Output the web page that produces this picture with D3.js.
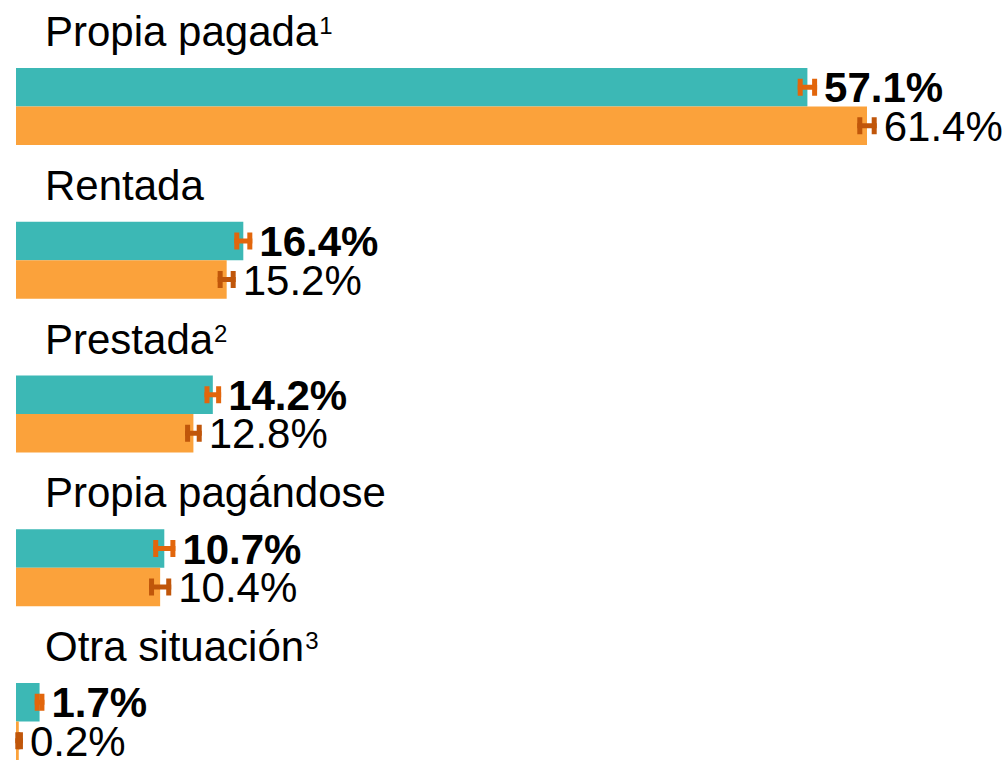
<!DOCTYPE html>
<html>
<head>
<meta charset="utf-8">
<script src="https://cdn.jsdelivr.net/npm/d3@7"></script>
<style>
  body { margin: 0; background: #fff; }
  svg { display: block; font-family: "Liberation Sans", Arial, sans-serif; }
</style>
</head>
<body>
<div id="chart"></div>
<script>
// categories + superscript footnote marks
var categories = ["Propia pagada", "Rentada", "Prestada", "Propia pagándose", "Otra situación"];
var footnotes  = ["1", "", "2", "", "3"];

// first series (teal, bold label) and second series (orange)
var valuesA = [57.1, 16.4, 14.2, 10.7, 1.7];
var lowA    = [56.4, 15.75, 13.6, 9.9, 1.35];
var highA   = [57.8, 17.05, 14.8, 11.5, 2.05];

var valuesB = [61.4, 15.2, 12.8, 10.4, 0.2];
var lowB    = [60.7, 14.55, 12.2, 9.6, -0.05];
var highB   = [62.1, 15.85, 13.4, 11.2, 0.5];

var W = 1007, H = 760;

var svg = d3.select("#chart").append("svg")
	.attr("width", W).attr("height", H);

var x = d3.scaleLinear().domain([0, 61.4]).range([16, 867]);

var y = d3.scaleBand().domain(categories).range([68, 68 + 5 * 153.75]).padding(0);

var inner = d3.scaleBand().domain(["A", "B"]).range([0, 77]);

var series = [
	{ key: "A", vals: valuesA, lo: lowA, hi: highA, fill: "#3cb8b5", err: "#e2660c", weight: "bold" },
	{ key: "B", vals: valuesB, lo: lowB, hi: highB, fill: "#fba23b", err: "#c0560a", weight: "normal" }
];

// category labels
var cat = svg.selectAll("text.cat").data(categories).enter()
	.append("text")
	.attr("class", "cat")
	.attr("x", 45)
	.attr("y", function(d) { return y(d) - 22; })
	.attr("font-size", 42)
	.attr("fill", "#000");

cat.append("tspan").text(function(d) { return d; });
cat.append("tspan")
	.attr("font-size", 24)
	.attr("dx", 1)
	.attr("dy", -12)
	.text(function(d, i) { return footnotes[i]; });

series.forEach(function(s) {
	var g = svg.append("g");

	var rows = categories.map(function(c, i) {
		return { cat: c, v: s.vals[i], lo: s.lo[i], hi: s.hi[i] };
	});

	// bars
	g.selectAll("rect.bar").data(rows).enter()
		.append("rect")
		.attr("class", "bar")
		.attr("x", x(0))
		.attr("y", function(d) { return y(d.cat) + inner(s.key); })
		.attr("width", function(d) { return Math.max(x(d.v) - x(0), 2); })
		.attr("height", inner.bandwidth())
		.attr("fill", s.fill);

	// error bars
	var eb = g.selectAll("g.err").data(rows).enter()
		.append("g")
		.attr("class", "err")
		.attr("transform", function(d) {
			return "translate(0," + (y(d.cat) + inner(s.key) + inner.bandwidth() / 2) + ")";
		});

	eb.append("line")
		.attr("x1", function(d) { return x(d.lo); })
		.attr("x2", function(d) { return x(d.hi); })
		.attr("stroke", s.err)
		.attr("stroke-width", 5);

	eb.append("rect")
		.attr("x", function(d) { return x(d.lo); })
		.attr("y", -8.5)
		.attr("width", 5)
		.attr("height", 17)
		.attr("fill", s.err);

	eb.append("rect")
		.attr("x", function(d) { return x(d.hi) - 5; })
		.attr("y", -8.5)
		.attr("width", 5)
		.attr("height", 17)
		.attr("fill", s.err);

	// value labels
	g.selectAll("text.val").data(rows).enter()
		.append("text")
		.attr("class", "val")
		.attr("x", function(d) { return x(d.hi) + 7; })
		.attr("y", function(d) { return y(d.cat) + inner(s.key) + inner.bandwidth() / 2 + 15; })
		.attr("font-size", 42)
		.attr("font-weight", s.weight)
		.attr("fill", "#000")
		.text(function(d) { return d3.format(".1f")(d.v) + "%"; });
});
</script>
</body>
</html>
